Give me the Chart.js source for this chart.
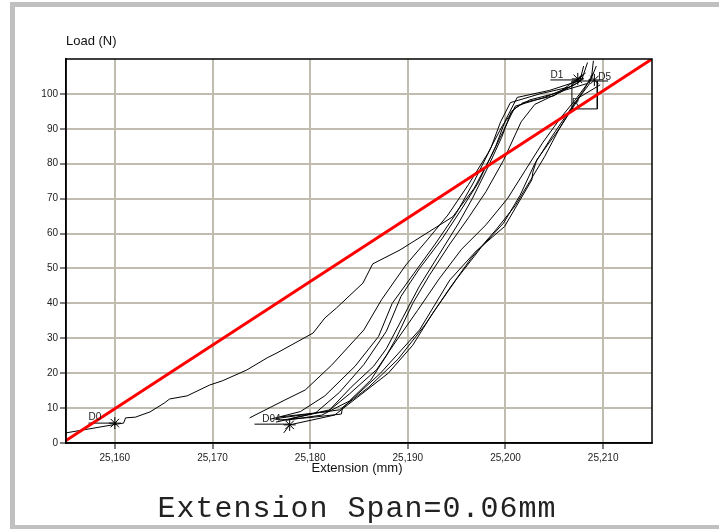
<!DOCTYPE html>
<html><head><meta charset="utf-8">
<script src="https://cdn.jsdelivr.net/npm/chart.js@4/dist/chart.umd.min.js"></script>
<style>
html,body{margin:0;padding:0;background:#fff;width:719px;height:529px;overflow:hidden;position:relative;font-family:"Liberation Sans",Arial,sans-serif;}
#wrap{position:absolute;left:0;top:0;width:719px;height:529px;}
.fr{position:absolute;background:#c0c0c0;}
.txt{position:absolute;color:#111;white-space:nowrap;}
</style></head><body>
<div class="fr" style="left:10px;top:2px;width:709px;height:5px"></div>
<div class="fr" style="left:10px;top:2px;width:5px;height:527px"></div>
<div class="fr" style="left:10px;top:525px;width:709px;height:4px"></div>
<div id="wrap"><canvas id="c" width="719" height="529"></canvas></div>
<div class="txt" style="left:66px;top:33px;font-size:13px;">Load (N)</div>
<div class="txt" style="left:257px;top:460px;width:200px;text-align:center;font-size:13px;">Extension (mm)</div>
<div class="txt" style="left:57px;top:492px;width:600px;text-align:center;font-family:'Liberation Mono',monospace;font-size:30px;letter-spacing:1px;color:#222;">Extension Span=0.06mm</div>
<script>
// ---- data ----
const xTicks = [25.16, 25.17, 25.18, 25.19, 25.20, 25.21];
const yTicks = [0, 10, 20, 30, 40, 50, 60, 70, 80, 90, 100];
const curveD0 = [[25.1550,2.9],[25.1602,5.4],[25.1609,5.7],[25.1611,7.2],[25.1621,7.4],[25.1636,8.9],[25.1651,11.5],[25.1656,12.6],[25.1674,13.5],[25.1697,16.6],[25.1710,17.8],[25.1735,20.9],[25.1756,24.4],[25.1766,25.8],[25.1803,31.5],[25.1815,35.8],[25.1827,38.7],[25.1854,45.8],[25.1864,51.3],[25.1892,55.3],[25.1946,64.8],[25.1968,73.0],[25.1985,82.0],[25.1998,89.5],[25.2010,96.5],[25.2040,99.0],[25.2070,102.5],[25.2080,104.5]];
const curveL1 = [[25.1738,7.2],[25.1774,12.3],[25.1795,15.2],[25.1822,22.3],[25.1855,32.4],[25.1873,41.0],[25.1898,51.0],[25.1920,58.2],[25.1941,65.3],[25.1962,74.0],[25.1982,83.0],[25.1997,91.0],[25.2010,96.0],[25.2025,98.3],[25.2056,100.5],[25.2076,103.5],[25.2080,108.0]];
const curveL2 = [[25.1759,6.8],[25.1790,9.0],[25.1815,13.5],[25.1846,22.0],[25.1870,30.5],[25.1884,40.0],[25.1906,48.5],[25.1928,57.0],[25.1950,66.0],[25.1968,75.0],[25.1985,84.5],[25.1995,92.0],[25.2005,97.5],[25.2035,100.0],[25.2066,102.0],[25.2080,105.5]];
const curveL3 = [[25.1765,6.0],[25.1805,8.5],[25.1830,14.5],[25.1855,22.5],[25.1878,32.0],[25.1893,42.0],[25.1912,50.0],[25.1935,58.5],[25.1955,67.0],[25.1972,74.5],[25.1990,85.0],[25.2000,92.5],[25.2012,99.0],[25.2045,101.0],[25.2078,104.0],[25.2084,109.0]];
const curveL4 = [[25.1780,7.0],[25.1820,9.5],[25.1842,16.0],[25.1865,22.0],[25.1878,27.0],[25.1895,36.0],[25.1912,45.0],[25.1932,54.0],[25.1952,63.0],[25.1966,70.0],[25.1982,79.0],[25.1996,87.5],[25.2006,95.0],[25.2018,97.5],[25.2050,99.5],[25.2082,106.0]];
const curveL5 = [[25.1775,6.5],[25.1812,8.0],[25.1840,12.0],[25.1862,18.0],[25.1878,25.0],[25.1888,30.0],[25.1905,40.0],[25.1922,48.0],[25.1943,57.0],[25.1962,64.5],[25.1980,72.0],[25.1998,81.0],[25.2016,92.0],[25.2030,97.0],[25.2060,101.0],[25.2084,103.0]];
const curveR1 = [[25.1770,7.5],[25.1818,9.0],[25.1840,14.0],[25.1868,21.0],[25.1890,30.0],[25.1910,38.0],[25.1932,47.0],[25.1955,55.5],[25.1980,62.5],[25.2002,70.0],[25.2020,78.0],[25.2038,86.0],[25.2056,93.0],[25.2072,98.5],[25.2088,104.5],[25.2090,109.5]];
const curveR2 = [[25.1773,2.9],[25.1779,5.2],[25.1825,8.0],[25.1848,13.0],[25.1880,20.0],[25.1905,28.0],[25.1925,37.0],[25.1950,47.0],[25.1975,56.0],[25.1998,63.0],[25.2015,71.0],[25.2030,80.0],[25.2048,88.0],[25.2065,95.0],[25.2080,101.0],[25.2090,106.0]];
const curveR3 = [[25.1765,7.0],[25.1830,9.5],[25.1860,16.0],[25.1890,24.0],[25.1918,34.0],[25.1942,44.0],[25.1965,53.0],[25.1990,61.0],[25.2010,68.0],[25.2025,75.0],[25.2040,82.0],[25.2055,90.0],[25.2070,97.0],[25.2085,102.5],[25.2093,108.0]];
const curveR4 = [[25.1769,6.6],[25.1800,7.3],[25.1832,8.3],[25.1833,10.0],[25.1872,20.0],[25.1912,32.4],[25.1943,46.7],[25.1970,55.0],[25.1999,62.0],[25.2027,75.4],[25.2028,77.6],[25.2032,81.1],[25.2055,90.0],[25.2076,99.1],[25.2097,102.6]];
const fitLine = [[25.155,0.7],[25.215,110]];
const boxR = [[25.2068,103.7],[25.2094,103.7],[25.2094,95.7],[25.2068,95.7]];
const leaders = [[[25.1573,5.7],[25.1602,5.7]],[[25.1743,5.4],[25.1779,5.4]],[[25.2046,104.0],[25.2076,104.0]],[[25.2094,103.7],[25.2105,103.7]]];
const starPts = [[25.1600,5.7],[25.1779,5.2],[25.2074,104.3],[25.2091,104.0]];
const markLabels = ["D0","D04","D1","D5","R"];
const markLabelPos = [[25.1573,7.5],[25.1751,6.9],[25.2046,105.4],[25.2095,104.9],[25.2068,97.4]];

const toPts = a => a.map(p => ({x:p[0], y:p[1]}));
const blackCurves = [curveD0,curveL1,curveL2,curveL3,curveL4,curveL5,curveR1,curveR2,curveR3,curveR4];
const ds = [];
ds.push({data:toPts(fitLine), borderColor:'#ff0000', borderWidth:3, showLine:true, pointRadius:0, order:0});
blackCurves.forEach(c => ds.push({data:toPts(c), borderColor:'#000', borderWidth:1, showLine:true, pointRadius:0, tension:0, order:1}));
ds.push({data:toPts(boxR.concat([boxR[0]])), borderColor:'#000', borderWidth:1, showLine:true, pointRadius:0, order:1});
leaders.forEach(l => ds.push({data:toPts(l), borderColor:'#000', borderWidth:1, showLine:true, pointRadius:0, order:1}));
ds.push({data:toPts(starPts), showLine:false, pointStyle:'star', pointRadius:6, borderColor:'#000', borderWidth:1, backgroundColor:'#000', order:1});

const boxPlugin = {
  id:'boxp',
  afterDraw(chart){
    const {ctx, chartArea:a, scales} = chart;
    ctx.save();
    ctx.strokeStyle='#000'; ctx.lineWidth=1.5;
    ctx.strokeRect(a.left, a.top, a.right-a.left, a.bottom-a.top);
    ctx.font='10px "Liberation Sans", Arial, sans-serif';
    ctx.fillStyle='#222'; ctx.textBaseline='middle'; ctx.textAlign='left';
    markLabels.forEach((t,i)=>{
      ctx.fillText(t, scales.x.getPixelForValue(markLabelPos[i][0]), scales.y.getPixelForValue(markLabelPos[i][1]));
    });
    ctx.restore();
  }
};

new Chart(document.getElementById('c'), {
  type:'scatter',
  data:{datasets:ds},
  options:{
    responsive:false, devicePixelRatio:1, animation:false,
    layout:{padding:{left:0, top:59, right:67, bottom:56}},
    plugins:{legend:{display:false}, tooltip:{enabled:false}},
    scales:{
      x:{type:'linear', min:25.155, max:25.215,
        afterFit(s){ s.height = 30; },
        afterBuildTicks(s){ s.ticks = xTicks.map(v=>({value:v})); },
        ticks:{font:{size:10, family:'"Liberation Sans", Arial'}, color:'#222', padding:3, maxRotation:0,
          callback:(v)=> v.toFixed(3).replace('.',',')},
        grid:{color:'rgb(192,188,175)', lineWidth:2, tickColor:'#000', tickWidth:1, tickLength:6},
        border:{color:'#000', width:1.5}},
      y:{type:'linear', min:0, max:110,
        afterFit(s){ s.width = 66; },
        afterBuildTicks(s){ s.ticks = yTicks.map(v=>({value:v})); },
        ticks:{font:{size:10, family:'"Liberation Sans", Arial'}, color:'#222', padding:2,
          callback:(v)=> String(v)},
        grid:{color:'rgb(192,188,175)', lineWidth:2, tickColor:'#000', tickWidth:1, tickLength:6},
        border:{color:'#000', width:1.5}}
    }
  },
  plugins:[boxPlugin]
});
</script>
</body></html>
